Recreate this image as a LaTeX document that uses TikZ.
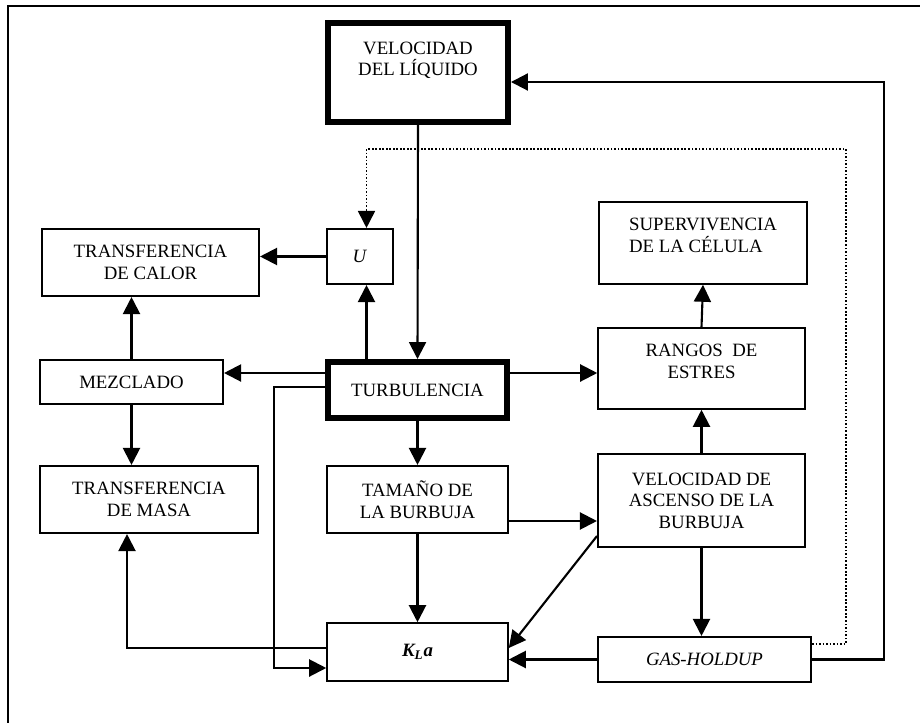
\documentclass[tikz,border=0pt]{standalone}
\usepackage{fontspec}
\setmainfont{Liberation Serif}
\usetikzlibrary{arrows.meta}

\newcommand{\retornoX}{884}
\newcommand{\punteoX}{846}

\begin{document}
\begin{tikzpicture}[x=0.02cm,y=-0.02cm,
    caja/.style={draw, line width=1.2pt, inner sep=0, align=center,
      font=\fontsize{10.7}{12.3}\selectfont},
    caja_fina/.style={caja, line width=0.9pt},
    caja_gruesa/.style={caja, line width=3.4pt},
    flecha/.style={line width=1.2pt, -{Triangle[length=0.34cm,width=0.34cm]}},
    punteada/.style={flecha, line width=1pt, densely dotted}]
    \useasboundingbox (0,0) rectangle (920,723);
    \draw[line width=0.9pt] (8,6) rectangle (930,735);

    \node[caja_gruesa, minimum width=3.6cm, minimum height=1.98cm, text depth=0.55cm] (vel_liq) at (418,72.5) {VELOCIDAD\\DEL LÍQUIDO};
    \node[caja, minimum width=1.32cm, minimum height=1.1cm] (coef_u) at (360,256.5) {\textit{U}};
    \node[caja, minimum width=4.34cm, minimum height=1.34cm] (trans_calor) at (150.5,262.5) {TRANSFERENCIA\\DE CALOR};
    \node[caja, minimum width=3.66cm, minimum height=0.88cm] (mezcla) at (131.5,382) {MEZCLADO};
    \node[caja_gruesa, minimum width=3.58cm, minimum height=1.12cm] (turb) at (417.5,390) {TURBULENCIA};
    \node[caja, minimum width=4.36cm, minimum height=1.34cm] (trans_masa) at (149,499.5) {TRANSFERENCIA\\DE MASA};
    \node[caja, minimum width=3.62cm, minimum height=1.34cm] (tam_burb) at (417.5,499.5) {TAMAÑO DE\\LA BURBUJA};
    \node[caja_fina, minimum width=3.62cm, minimum height=1.16cm] (kla) at (417.5,652) {\textbf{\textit{K\textsubscript{L}a}}};
    \node[caja_fina, minimum width=4.16cm, minimum height=1.64cm, align=left, text depth=0.3cm] (superv) at (703,243) {SUPERVIVENCIA\\DE LA CÉLULA};
    \node[caja_fina, minimum width=4.14cm, minimum height=1.62cm, text depth=0.3cm] (rangos) at (701.5,368.5) {RANGOS~~DE\\ESTRES};
    \node[caja, minimum width=4.14cm, minimum height=1.86cm] (vel_asc) at (701.5,500.5) {VELOCIDAD DE\\ASCENSO DE LA\\BURBUJA};
    \node[caja, minimum width=4.26cm, minimum height=0.9cm] (gas_holdup) at (704.5,659.5) {\textit{GAS-HOLDUP}};

    \coordinate (retorno) at (\retornoX,82);
    \coordinate (punteo_inf) at (\punteoX,644);
    \coordinate (punteo_sup) at (\punteoX,149);
    \coordinate (bajada) at (274,668);

    \draw[flecha] (vel_liq.south) -- (turb.north);
    \draw[flecha] (gas_holdup.east) -| (retorno) -- (retorno -| vel_liq.east);
    \draw[punteada] (punteo_inf -| gas_holdup.east) -- (punteo_inf) -- (punteo_sup) -| ([xshift=0.13cm]coef_u.north);
    \draw[flecha] (coef_u.west) -- (coef_u.west -| trans_calor.east);
    \draw[flecha] ([xshift=0.13cm]coef_u.south |- turb.north) -- ([xshift=0.13cm]coef_u.south);
    \draw[flecha] (mezcla.north) -- (mezcla.north |- trans_calor.south);
    \draw[flecha] ([yshift=0.34cm]turb.west) -- ([yshift=0.34cm]turb.west -| mezcla.east);
    \draw[flecha] ([yshift=0.06cm]turb.west) -| (bajada) -- (bajada -| kla.west);
    \draw[flecha] (mezcla.south) -- (mezcla.south |- trans_masa.north);
    \draw[flecha] ([yshift=0.08cm]kla.west) -| ([xshift=-0.44cm]trans_masa.south);
    \draw[flecha] (turb.south) -- (tam_burb.north);
    \draw[flecha] (tam_burb.south) -- (kla.north);
    \draw[flecha] ([yshift=0.34cm]turb.east) -- ([yshift=0.34cm]turb.east -| rangos.west);
    \draw[flecha] ([yshift=-0.43cm]tam_burb.east) -- ([yshift=-0.43cm]tam_burb.east -| vel_asc.west);
    \draw[flecha] ([yshift=0.24cm]vel_asc.south west) -- ([yshift=0.08cm]kla.east);
    \draw[flecha] (gas_holdup.west) -- (gas_holdup.west -| kla.east);
    \draw[flecha] (vel_asc.south) -- (vel_asc.south |- gas_holdup.north);
    \draw[flecha] (vel_asc.north) -- (rangos.south);
    \draw[flecha] (rangos.north) -- (superv.south);
\end{tikzpicture}
\end{document}
